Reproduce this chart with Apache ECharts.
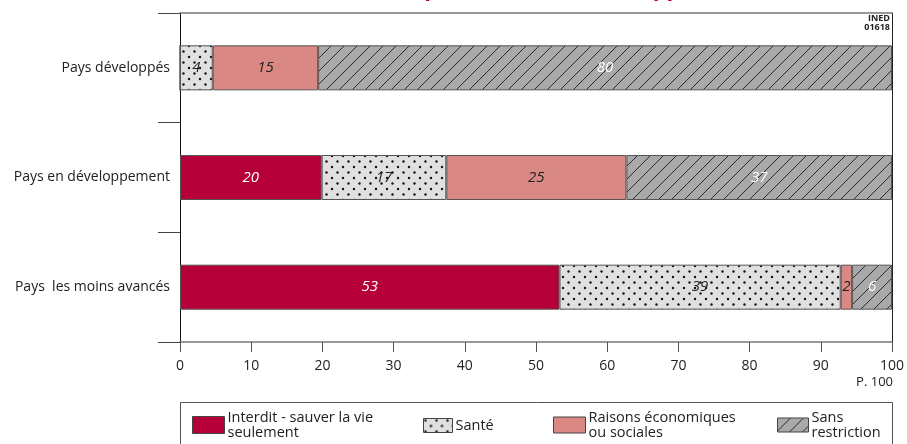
<!DOCTYPE html>
<html>
<head>
<meta charset="utf-8">
<script src="https://cdn.jsdelivr.net/npm/echarts@6/dist/echarts.min.js"></script>
<style>
html,body{margin:0;padding:0;background:#fff;}
#chart{width:907px;height:444px;}
</style>
</head>
<body>
<div id="chart"></div>
<script>
// ---- data ----
const categories = ['Pays développés', 'Pays en développement', 'Pays  les moins avancés'];
const seriesNames = ['Interdit - sauver la vie seulement', 'Santé', 'Raisons économiques ou sociales', 'Sans restriction'];
const legendTexts = ['Interdit - sauver la vie\nseulement', 'Santé', 'Raisons économiques\nou sociales', 'Sans\nrestriction'];
// segment widths (percent)
const interdit = [0, 19.9, 53.3];
const sante = [4.6, 17.5, 39.5];
const raisons = [14.8, 25.3, 1.6];
const sansRestriction = [80.6, 37.3, 5.6];
// printed labels
const interditLabels = ['', '20', '53'];
const santeLabels = ['4', '17', '39'];
const raisonsLabels = ['15', '25', '2'];
const sansLabels = ['80', '37', '6'];
const xTicks = [0, 10, 20, 30, 40, 50, 60, 70, 80, 90, 100];

// ---- patterns ----
function dotPattern() {
  const c = document.createElement('canvas');
  c.width = 11; c.height = 11;
  const g = c.getContext('2d');
  g.fillStyle = '#e0e0e0';
  g.fillRect(0, 0, 11, 11);
  g.fillStyle = '#111';
  [[2, 2], [7.5, 7.5]].forEach(p => { g.beginPath(); g.arc(p[0], p[1], 1.2, 0, Math.PI * 2); g.fill(); });
  return c;
}
function hatchPattern() {
  const s = 13;
  const c = document.createElement('canvas');
  c.width = s; c.height = s;
  const g = c.getContext('2d');
  g.fillStyle = '#a9a9ab';
  g.fillRect(0, 0, s, s);
  g.strokeStyle = '#2a2a2a';
  g.lineWidth = 1;
  g.beginPath();
  g.moveTo(-1, s + 1); g.lineTo(s + 1, -1);
  g.moveTo(-1, 1); g.lineTo(1, -1);
  g.moveTo(s - 1, s + 1); g.lineTo(s + 1, s - 1);
  g.stroke();
  return c;
}
const colors = [
  '#b5003a',
  { image: dotPattern(), repeat: 'repeat' },
  '#d98884',
  { image: hatchPattern(), repeat: 'repeat' }
];
const labelColors = ['#ffffff', '#222222', '#222222', '#ffffff'];
const values = [interdit, sante, raisons, sansRestriction];
const labels = [interditLabels, santeLabels, raisonsLabels, sansLabels];

const FONT = '"Open Sans", "DejaVu Sans", sans-serif';

const series = seriesNames.map((n, i) => ({
  name: n,
  type: 'bar',
  stack: 'total',
  barWidth: 45,
  data: values[i],
  itemStyle: { color: colors[i], borderColor: '#555', borderWidth: 1 },
  label: {
    show: true,
    position: 'inside',
    fontStyle: 'italic',
    fontSize: 15,
    fontFamily: FONT,
    color: labelColors[i],
    formatter: p => labels[i][p.dataIndex]
  },
  emphasis: { disabled: true }
}));

// legend layout (one legend per item, each with its own swatch size)
const legendPos = [
  { left: 192, top: 410, w: 32, h: 17 },
  { left: 423, top: 418, w: 29, h: 14 },
  { left: 553, top: 410, w: 32, h: 16 },
  { left: 777, top: 410, w: 31, h: 14 }
];
const legends = seriesNames.map((n, i) => ({
  data: [n],
  left: legendPos[i].left,
  top: legendPos[i].top,
  padding: 0,
  itemWidth: legendPos[i].w,
  itemHeight: legendPos[i].h,
  icon: 'rect',
  selectedMode: false,
  formatter: () => legendTexts[i],
  itemStyle: { borderColor: '#444', borderWidth: 1 },
  textStyle: { fontSize: 14.5, lineHeight: 15, fontFamily: FONT, color: '#222', padding: [0, 0, 0, -2] }
}));

const chart = echarts.init(document.getElementById('chart'));
chart.setOption({
  animation: false,
  backgroundColor: '#fff',
  legend: legends,
  grid: { left: 180, right: 14, top: 13, bottom: 102, containLabel: false },
  xAxis: [
    {
      type: 'value', min: 0, max: 100, interval: 10,
      axisLine: { show: true, lineStyle: { color: '#777', width: 1.5 } },
      axisTick: { show: true, length: 10, lineStyle: { color: '#555' } },
      axisLabel: { margin: 17, fontSize: 14, fontFamily: FONT, color: '#222', formatter: v => (xTicks.indexOf(v) >= 0 ? String(v) : '') },
      splitLine: { show: false }
    },
    {
      type: 'value', min: 0, max: 100, position: 'top',
      axisLine: { show: true, onZero: false, lineStyle: { color: '#777', width: 1.5 } },
      axisTick: { show: false }, axisLabel: { show: false }, splitLine: { show: false }
    }
  ],
  yAxis: [
    {
      type: 'category', data: categories, inverse: true,
      axisLine: { show: true, lineStyle: { color: '#111' } },
      axisTick: { show: true, length: 22, lineStyle: { color: '#444' } },
      axisLabel: { margin: 10, fontSize: 14, fontFamily: FONT, color: '#222' }
    },
    {
      type: 'category', data: categories, inverse: true, position: 'right',
      axisLine: { show: true, onZero: false, lineStyle: { color: '#222' } },
      axisTick: { show: false }, axisLabel: { show: false }
    }
  ],
  series: series,
  graphic: [
    {
      type: 'rect', shape: { x: 180.5, y: 402.5, width: 712, height: 60 },
      style: { fill: 'none', stroke: '#555', lineWidth: 1 }, silent: true
    },
    {
      type: 'text', right: 14, top: 376,
      style: { text: 'P. 100', font: '13px ' + FONT, fill: '#222', textAlign: 'right' }
    },
    {
      type: 'text', right: 17, top: 14,
      style: { text: 'INED\n01618', font: 'bold 9px ' + FONT, fill: '#222', textAlign: 'right', lineHeight: 9 }
    },
    {
      type: 'text', x: 415, y: 1,
      style: { text: "Motifs d'avortement autorisés, par niveau de développement", font: 'bold 22px ' + FONT, fill: '#c0003c', textAlign: 'center', textVerticalAlign: 'bottom' }
    }
  ]
});
</script>
</body>
</html>
